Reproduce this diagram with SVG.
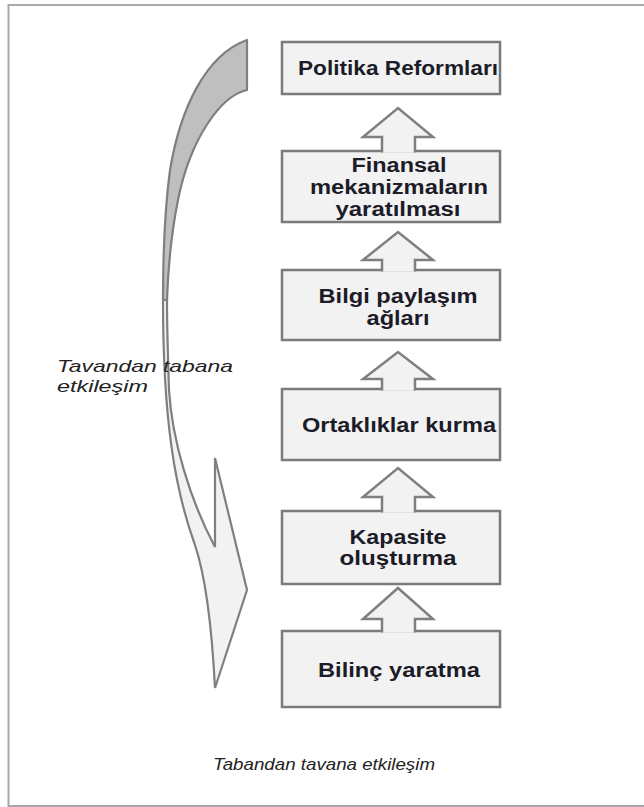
<svg xmlns="http://www.w3.org/2000/svg" width="644" height="807" viewBox="0 0 644 807">
<style>
.box{fill:#f2f2f2;stroke:#7a7a7a;stroke-width:2.5}
.arr{fill:#f2f2f2;stroke:#7f7f7f;stroke-width:2.5;stroke-linejoin:miter}
.t{font-family:"Liberation Sans",Arial,sans-serif;font-weight:bold;font-size:20px;fill:#1c1c28;text-anchor:middle}
.it{font-family:"Liberation Sans",Arial,sans-serif;font-style:italic;font-size:16.5px;fill:#222}
</style>
<rect x="8.5" y="5" width="700" height="801" fill="#fff" stroke="#a8a8a8" stroke-width="2"/>

<g id="curved-arrow">
<path d="M247,40 L247,90 C220,96 190,140 178,200 C171,235 168,270 167,300 L163,300 C163,260 164,215 170,170 C180,110 205,55 247,40 Z" fill="#bfbfbf" stroke="#7f7f7f" stroke-width="2.2" stroke-linejoin="round"/>
<path d="M163,300 C163,420 175,490 195,545 C205,575 212,630 215,688 L247,590 L215,458 L215,547 C190,500 172,440 169,390 C168,360 167,330 167,300 Z" fill="#f2f2f2" stroke="#7f7f7f" stroke-width="2.2" stroke-linejoin="miter"/>
</g>

<g id="n1"><rect class="box" x="282" y="42" width="218" height="52"/><text class="t" x="398" y="75" font-size="17" textLength="200" lengthAdjust="spacingAndGlyphs">Politika Reformları</text></g>
<g id="n2"><rect class="box" x="282" y="151" width="218" height="71"/><text class="t" x="399" y="172" textLength="95" lengthAdjust="spacingAndGlyphs">Finansal</text><text class="t" x="399" y="194" textLength="178" lengthAdjust="spacingAndGlyphs">mekanizmaların</text><text class="t" x="398" y="216" textLength="125" lengthAdjust="spacingAndGlyphs">yaratılması</text></g>
<g id="n3"><rect class="box" x="282" y="270" width="218" height="70"/><text class="t" x="398" y="303" textLength="159" lengthAdjust="spacingAndGlyphs">Bilgi paylaşım</text><text class="t" x="398" y="325" textLength="63" lengthAdjust="spacingAndGlyphs">ağları</text></g>
<g id="n4"><rect class="box" x="282" y="389" width="218" height="71"/><text class="t" x="399" y="432" textLength="194" lengthAdjust="spacingAndGlyphs">Ortaklıklar kurma</text></g>
<g id="n5"><rect class="box" x="282" y="511" width="218" height="73"/><text class="t" x="398" y="544" textLength="97" lengthAdjust="spacingAndGlyphs">Kapasite</text><text class="t" x="398" y="565" textLength="117" lengthAdjust="spacingAndGlyphs">oluşturma</text></g>
<g id="n6"><rect class="box" x="282" y="631" width="218" height="76"/><text class="t" x="399" y="677" textLength="162" lengthAdjust="spacingAndGlyphs">Bilinç yaratma</text></g>

<g id="connectors">
<path class="arr" d="M382,152.5 V137 H363 L398,108 L433,137 H415 V152.5"/>
<path class="arr" d="M382,271.5 V260 H363 L398,232 L433,260 H415 V271.5"/>
<path class="arr" d="M382,390.5 V379 H363 L398,352 L433,379 H415 V390.5"/>
<path class="arr" d="M382,512.5 V497 H363 L398,468 L433,497 H415 V512.5"/>
<path class="arr" d="M382,632.5 V619 H363 L398,588 L433,619 H415 V632.5"/>
</g>

<g id="labels">
<text class="it" x="57" y="372" textLength="176" lengthAdjust="spacingAndGlyphs">Tavandan tabana</text>
<text class="it" x="57" y="392" textLength="91" lengthAdjust="spacingAndGlyphs">etkileşim</text>
<text class="it" x="213" y="770" textLength="222" lengthAdjust="spacingAndGlyphs">Tabandan tavana etkileşim</text>
</g>
</svg>
